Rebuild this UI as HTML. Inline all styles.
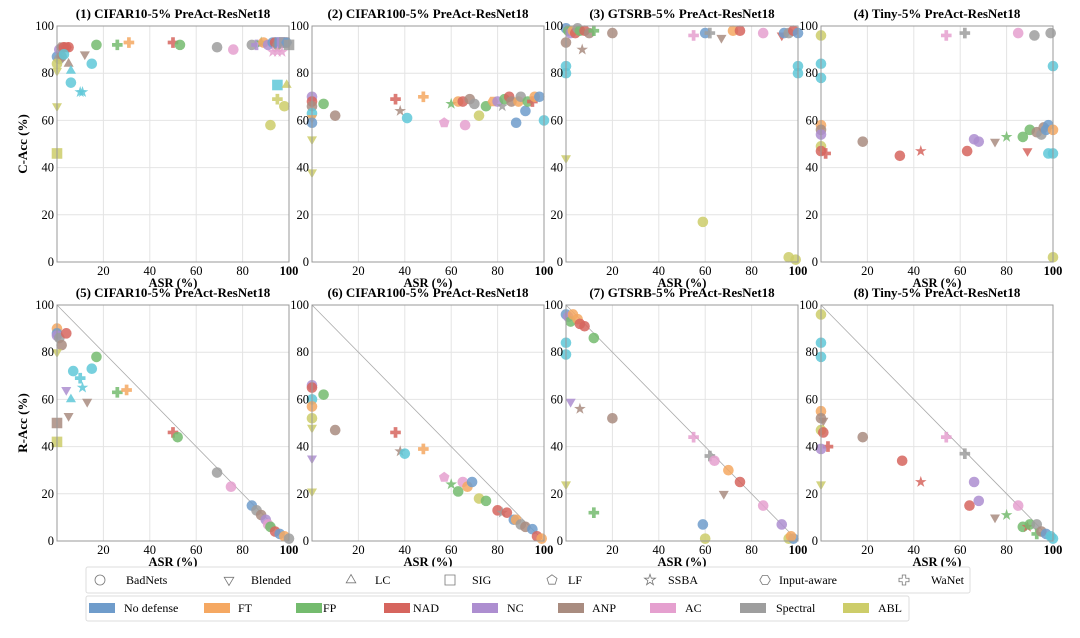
<!DOCTYPE html>
<html><head><meta charset="utf-8"><style>
body{margin:0;background:#fff;width:1080px;height:633px;overflow:hidden;font-family:"Liberation Serif",serif}
svg text{font-family:"Liberation Serif",serif}
</style></head><body>
<svg id="chart" width="1080" height="633" xmlns="http://www.w3.org/2000/svg">
<g id="plots"></g>
<g id="legend-attacks">
<rect x="86" y="567" width="884" height="26" fill="#fff" stroke="#ddd" rx="2"/>
</g>
<g id="legend-defenses">
<rect x="86" y="596" width="823" height="25" fill="#fff" stroke="#ddd" rx="2"/>
</g>
</svg>
<script>
const titles=["(1) CIFAR10-5% PreAct-ResNet18","(2) CIFAR100-5% PreAct-ResNet18","(3) GTSRB-5% PreAct-ResNet18","(4) Tiny-5% PreAct-ResNet18","(5) CIFAR10-5% PreAct-ResNet18","(6) CIFAR100-5% PreAct-ResNet18","(7) GTSRB-5% PreAct-ResNet18","(8) Tiny-5% PreAct-ResNet18"];
const xTicks=[20,40,60,80,100];
const yTicks=[0,20,40,60,80,100];
const defenseNames=["No defense","FT","FP","NAD","NC","ANP","AC","Spectral","ABL"];
const defenseColors=["#6f9ccb","#f5a862","#74bb6e","#d6655e","#ad8ed0","#a98c80","#e5a0cf","#9e9e9e","#cdcd6a","#5fc8d8"];
const attackNames=["BadNets","Blended","LC","SIG","LF","SSBA","Input-aware","WaNet"];
const attackMarkers=["o","v","^","s","p","*","h","+"];
// points: [ASR, Acc, defenseIndex, attackIndex]
const series1=[[0,87,0,0],[1,90,4,0],[2,91,5,6],[3,91,3,0],[4,91,3,6],[5,91,3,0],[1,86,7,0],[2,87,5,0],[3,88,9,0],[0,84,8,0],[0,81,8,1],[12,88,5,1],[5,84,5,2],[6,81,9,2],[15,84,9,0],[6,76,9,0],[10,72,9,5],[11,72,9,5],[0,66,8,1],[0,46,8,3],[17,92,2,0],[26,92,2,7],[31,93,1,7],[50,93,3,7],[53,92,2,0],[69,91,7,0],[76,90,6,0],[84,92,7,0],[86,92,4,7],[88,93,2,5],[89,93,1,0],[91,92,4,0],[93,93,0,0],[94,93,3,0],[95,92,5,6],[96,93,0,3],[97,93,4,3],[98,93,7,3],[99,93,0,6],[100,92,7,3],[93,89,6,5],[95,89,6,5],[97,89,6,5],[95,75,9,3],[99,75,8,2],[95,69,8,7],[98,66,8,0],[92,58,8,0]];
const series2=[[0,70,4,0],[0,68,3,0],[0,66,5,0],[0,63,9,0],[0,61,1,1],[0,59,0,0],[0,52,8,1],[0,38,8,1],[5,67,2,0],[10,62,5,0],[36,69,3,7],[38,64,5,5],[41,61,9,0],[48,70,1,7],[57,59,6,4],[60,67,2,5],[63,68,1,0],[65,68,3,0],[66,58,6,0],[68,69,5,0],[70,67,7,0],[72,62,8,0],[75,66,2,0],[78,68,1,6],[80,68,4,0],[82,66,7,5],[83,69,2,0],[85,70,3,0],[86,68,5,0],[88,59,0,0],[89,68,1,0],[90,70,7,0],[92,64,0,0],[93,68,2,0],[95,68,3,7],[96,70,1,0],[98,70,0,0],[100,60,9,0]];
const series3=[[0,99,0,0],[1,98,2,0],[2,97,4,0],[3,98,1,0],[4,97,3,0],[5,99,7,0],[6,98,2,0],[8,98,3,0],[10,97,5,0],[12,98,2,7],[0,93,5,0],[7,90,5,5],[20,97,5,0],[0,83,9,0],[0,80,9,0],[0,44,8,1],[55,96,6,7],[60,97,0,0],[62,97,7,7],[67,95,5,1],[72,98,1,0],[75,98,3,0],[85,97,6,0],[93,96,3,1],[94,97,0,0],[96,97,7,0],[98,98,3,0],[100,97,0,0],[100,83,9,0],[100,80,9,0],[59,17,8,0],[96,2,8,0],[99,1,8,0]];
const series4=[[0,96,8,0],[0,84,9,0],[0,78,9,0],[0,58,1,0],[0,56,5,0],[0,54,4,0],[0,49,8,0],[0,47,3,0],[2,46,3,7],[18,51,5,0],[34,45,3,0],[43,47,3,5],[54,96,6,7],[62,97,7,7],[63,47,3,0],[66,52,4,0],[68,51,4,0],[75,51,5,1],[80,53,2,5],[85,97,6,0],[87,53,2,0],[89,47,3,1],[90,56,2,0],[92,96,7,0],[93,55,5,0],[95,54,7,0],[96,57,5,0],[97,56,0,0],[98,58,0,0],[98,46,9,0],[100,46,9,0],[99,97,7,0],[100,56,1,0],[100,83,9,0],[100,2,8,0]];
const series5=[[0,90,1,0],[0,88,0,0],[0,87,4,0],[1,86,7,0],[2,83,5,0],[4,88,3,0],[0,80,8,1],[0,50,5,3],[0,42,8,3],[4,64,4,1],[5,53,5,1],[6,60,9,2],[7,72,9,0],[10,69,9,7],[11,65,9,5],[13,59,5,1],[15,73,9,0],[17,78,2,0],[26,63,2,7],[30,64,1,7],[50,46,3,7],[52,44,2,0],[69,29,7,0],[75,23,6,0],[84,15,0,0],[86,13,7,0],[88,11,5,0],[90,9,4,0],[91,7,6,0],[92,6,2,0],[94,4,3,0],[96,3,0,0],[98,2,1,0],[100,1,7,0]];
const series6=[[0,66,4,0],[0,65,3,0],[0,60,9,0],[0,57,1,0],[0,52,8,0],[0,48,8,1],[0,35,4,1],[0,21,8,1],[5,62,2,0],[10,47,5,0],[36,46,3,7],[38,38,5,5],[40,37,9,0],[48,39,1,7],[57,27,6,4],[60,24,2,5],[63,21,2,0],[65,25,6,0],[67,23,1,0],[69,25,0,0],[72,18,8,0],[75,17,2,0],[80,13,3,0],[82,12,7,5],[84,12,3,0],[87,9,0,0],[88,9,1,0],[90,7,7,0],[92,6,5,0],[95,5,0,0],[97,2,3,0],[99,1,1,0]];
const series7=[[0,96,0,0],[1,95,4,0],[2,93,2,0],[3,96,1,0],[5,94,1,0],[6,92,3,0],[8,91,3,0],[12,86,2,0],[0,84,9,0],[0,79,9,0],[2,59,4,1],[6,56,5,5],[20,52,5,0],[0,24,8,1],[12,12,2,7],[55,44,6,7],[62,36,7,7],[64,34,6,0],[68,20,5,1],[70,30,1,0],[75,25,3,0],[85,15,6,0],[93,7,4,0],[59,7,0,0],[60,1,8,0],[96,1,8,0],[98,1,0,0],[97,2,1,0]];
const series8=[[0,96,8,0],[0,84,9,0],[0,78,9,0],[0,55,1,0],[0,52,5,0],[1,51,5,1],[0,47,8,0],[1,46,3,0],[3,40,3,7],[0,39,4,0],[0,24,8,1],[18,44,5,0],[35,34,3,0],[43,25,3,5],[54,44,6,7],[62,37,7,7],[64,15,3,0],[66,25,4,0],[68,17,4,0],[75,10,5,1],[80,11,2,5],[85,15,6,0],[87,6,2,0],[89,6,3,5],[90,7,2,0],[93,7,7,0],[93,3,2,7],[95,4,5,0],[97,3,0,0],[99,2,9,0],[100,1,9,0]];
const allSeries=[series1,series2,series3,series4,series5,series6,series7,series8];

const NS="http://www.w3.org/2000/svg";
function mk(tag,attrs,parent){const e=document.createElementNS(NS,tag);for(const k in attrs)e.setAttribute(k,attrs[k]);parent.appendChild(e);return e;}
function markerPath(m,cx,cy,r){
  const poly=(n,rot,rr)=>{let p=[];for(let i=0;i<n;i++){const a=rot+i*2*Math.PI/n;p.push((cx+rr*Math.cos(a)).toFixed(1)+","+(cy+rr*Math.sin(a)).toFixed(1));}return "M"+p.join("L")+"Z";};
  if(m==="v")return poly(3,Math.PI/2,r*1.1);
  if(m==="^")return poly(3,-Math.PI/2,r*1.1);
  if(m==="s")return `M${cx-r},${cy-r}h${2*r}v${2*r}h${-2*r}Z`;
  if(m==="p")return poly(5,-Math.PI/2,r*1.05);
  if(m==="h")return poly(6,0,r*1.05);
  if(m==="*"){let p=[];for(let i=0;i<10;i++){const a=-Math.PI/2+i*Math.PI/5;const rr=i%2?r*0.45:r*1.15;p.push((cx+rr*Math.cos(a)).toFixed(1)+","+(cy+rr*Math.sin(a)).toFixed(1));}return "M"+p.join("L")+"Z";}
  if(m==="+"){const a=r*0.35;return `M${cx-a},${cy-r}h${2*a}v${r-a}h${r-a}v${2*a}h${-(r-a)}v${r-a}h${-2*a}v${-(r-a)}h${-(r-a)}v${-2*a}h${r-a}Z`;}
  return null;
}
const plotsG=document.getElementById("plots");
const colX=[57,312,566,821],W=232;
const rowTop=[26,305],H=236;
for(let k=0;k<8;k++){
  const x0=colX[k%4],y0=rowTop[Math.floor(k/4)];
  const sx=v=>x0+v/100*W, sy=v=>y0+H-v/100*H;
  const g=mk("g",{},plotsG);
  
  
  mk("rect",{x:x0,y:y0,width:W,height:H,fill:"#fff"},g);
  xTicks.forEach(t=>{if(t<100)mk("line",{x1:sx(t),x2:sx(t),y1:y0,y2:y0+H,stroke:"#e4e4e4","stroke-width":1},g);});
  yTicks.forEach(t=>{if(t>0&&t<100)mk("line",{x1:x0,x2:x0+W,y1:sy(t),y2:sy(t),stroke:"#e4e4e4","stroke-width":1},g);});
  if(k>=4){const d=mk("line",{x1:sx(0),y1:sy(100),x2:sx(100),y2:sy(0),stroke:"#aaa","stroke-width":0.8},g);}
  const pg=mk("g",{},g);
  
  
  allSeries[k].forEach(p=>{
    const cx=sx(p[0]),cy=sy(p[1]),col=defenseColors[p[2]],m=attackMarkers[p[3]];
    let e;const r=5.3;
    const d=markerPath(m,cx,cy,r);
    if(d)e=mk("path",{d:d,fill:col,"fill-opacity":0.85},pg);
    else e=mk("circle",{cx:cx,cy:cy,r:r,fill:col,"fill-opacity":0.85},pg);
    
    
  });
  mk("rect",{x:x0,y:y0,width:W,height:H,fill:"none",stroke:"#999","stroke-width":1},g);
  const tt=mk("text",{x:x0+W/2,y:y0-8,"text-anchor":"middle","font-size":"13","font-weight":"bold"},g);
  tt.textContent=titles[k];
  
  
  xTicks.forEach(t=>{const e=mk("text",{x:sx(t),y:y0+H+13,"text-anchor":"middle","font-size":"12.5","font-weight":t==100?"bold":"normal"},g);e.textContent=t;});
  yTicks.forEach(t=>{const e=mk("text",{x:x0-3,y:sy(t)+4,"text-anchor":"end","font-size":"12.5"},g);e.textContent=t;});
  const xl=mk("text",{x:x0+W/2,y:y0+H+25,"text-anchor":"middle","font-size":"12.5","font-weight":"bold"},g);
  xl.textContent="ASR (%)";
  
  
  if(k%4===0){const yl=mk("text",{x:0,y:0,"text-anchor":"middle","font-size":"13","font-weight":"bold",transform:`translate(${x0-30},${y0+H/2}) rotate(-90)`},g);yl.textContent=k<4?"C-Acc (%)":"R-Acc (%)";}
}
const la=document.getElementById("legend-attacks");
const aPos=[[100,126],[229,251],[351,375],[450,472],[552,568],[650,668],[765,779],[904,931]];
attackNames.forEach((n,i)=>{
  const g=mk("g",{},la);
  
  
  const cx=aPos[i][0],cy=580;const d=markerPath(attackMarkers[i],cx,cy,5);
  if(d)mk("path",{d:d,fill:"none",stroke:"#777","stroke-width":0.8},g);else mk("circle",{cx:cx,cy:cy,r:5,fill:"none",stroke:"#777","stroke-width":0.8},g);
  const t=mk("text",{x:aPos[i][1],y:584,"font-size":"12"},g);t.textContent=n;
});
const ld=document.getElementById("legend-defenses");
const dPos=[[89,124],[204,238],[296,323],[384,413],[472,507],[558,592],[650,685],[740,776],[843,878]];
defenseNames.forEach((n,i)=>{
  const g=mk("g",{},ld);
  
  
  mk("rect",{x:dPos[i][0],y:603,width:26,height:10,fill:defenseColors[i]},g);
  const t=mk("text",{x:dPos[i][1],y:612,"font-size":"12"},g);t.textContent=n;
});
</script>
</body></html>
